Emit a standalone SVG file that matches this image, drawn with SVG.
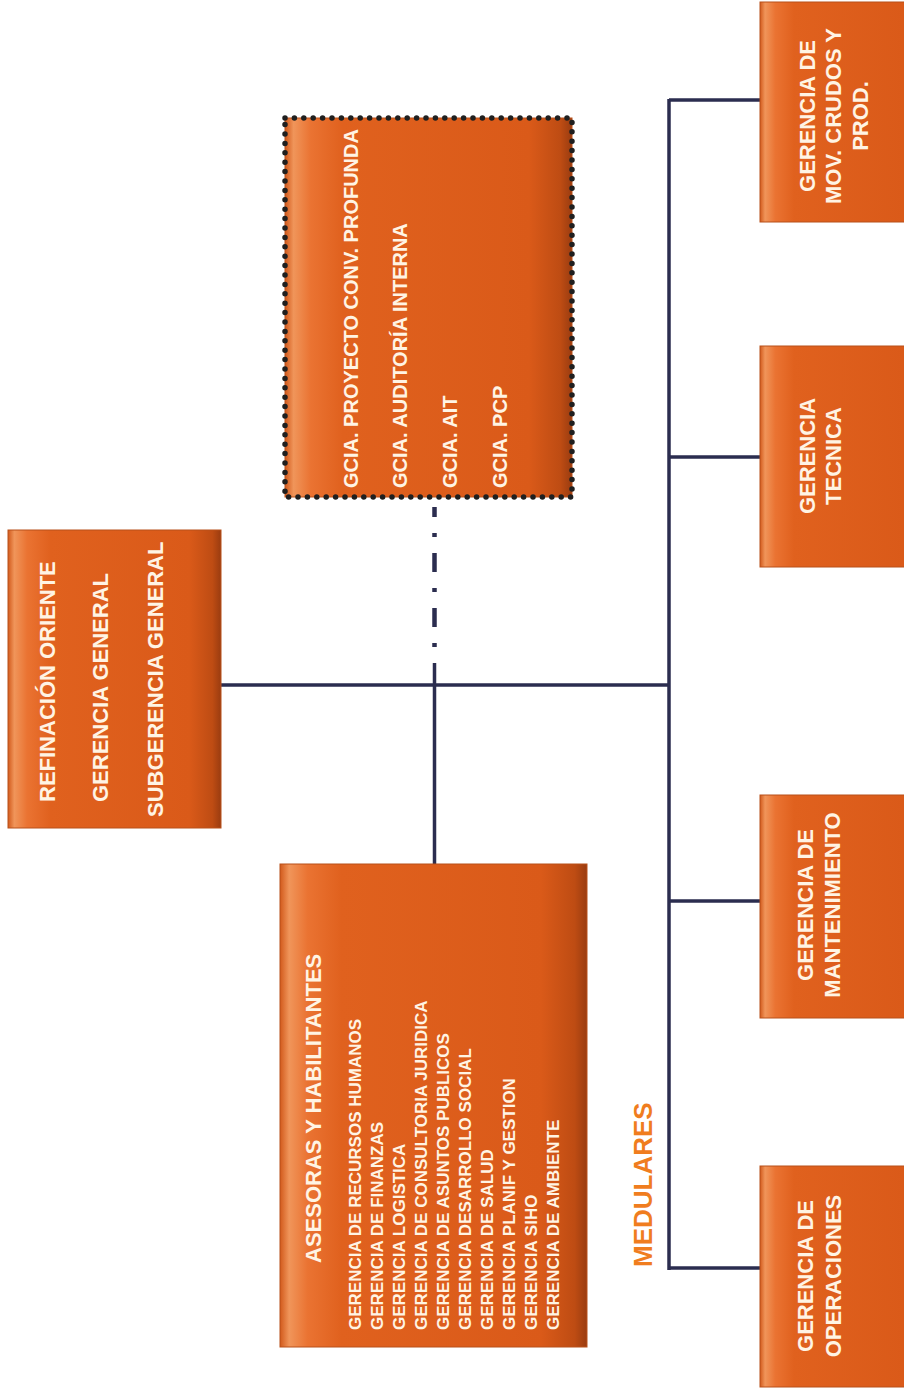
<svg xmlns="http://www.w3.org/2000/svg" width="904" height="1391" viewBox="0 0 904 1391">
<defs>
<linearGradient id="boxg" x1="0" y1="0" x2="1" y2="0">
<stop offset="0" stop-color="#D25A1C"/>
<stop offset="0.03" stop-color="#F0955A"/>
<stop offset="0.09" stop-color="#EA7332"/>
<stop offset="0.2" stop-color="#E0611E"/>
<stop offset="0.85" stop-color="#DA5A19"/>
<stop offset="0.96" stop-color="#BE4C13"/>
<stop offset="1" stop-color="#9A3C10"/>
</linearGradient>
<style>
.box{fill:url(#boxg);stroke:#B8501A;stroke-width:1}
.t{font-family:"Liberation Sans",Arial,sans-serif;font-weight:bold;fill:#FFF4E4}
.t22{font-size:22px}
.t20{font-size:20px}
.t17{font-size:17px}
.mid{text-anchor:middle}
.ln{stroke:#2B2D4F;stroke-width:3.5;fill:none}
</style>
</defs>
<rect x="0" y="0" width="904" height="1391" fill="#FFFFFF"/>

<g id="connectors">
<line class="ln" x1="221" y1="685" x2="669" y2="685"/>
<line class="ln" x1="669" y1="99" x2="669" y2="1270"/>
<line class="ln" x1="669" y1="100" x2="760" y2="100"/>
<line class="ln" x1="669" y1="457" x2="760" y2="457"/>
<line class="ln" x1="669" y1="901" x2="760" y2="901"/>
<line class="ln" x1="669" y1="1268" x2="760" y2="1268"/>
<line class="ln" x1="434.5" y1="663" x2="434.5" y2="864"/>
<line x1="434.5" y1="507" x2="434.5" y2="663" stroke="#2B2D4F" stroke-width="4.5" stroke-dasharray="19 16 4 16" stroke-dashoffset="9"/>
</g>

<g id="refinacion">
<rect class="box" x="8" y="530" width="213" height="298"/>
<text class="t t22" transform="translate(55,802) rotate(-90)">REFINACIÓN ORIENTE</text>
<text class="t t22" transform="translate(108,802) rotate(-90)">GERENCIA GENERAL</text>
<text class="t t22" transform="translate(163,817) rotate(-90)">SUBGERENCIA GENERAL</text>
</g>

<g id="gcias">
<rect class="box" x="285" y="118" width="287" height="379"/>
<rect x="285" y="118" width="287" height="379" fill="none" stroke="#1F1F1F" stroke-width="5.5" stroke-linecap="round" stroke-dasharray="0 9.4"/>
<text class="t t20" transform="translate(358,488) rotate(-90)">GCIA. PROYECTO CONV. PROFUNDA</text>
<text class="t t20" transform="translate(407,488) rotate(-90)">GCIA. AUDITORÍA INTERNA</text>
<text class="t t20" transform="translate(457,488) rotate(-90)">GCIA. AIT</text>
<text class="t t20" transform="translate(507,488) rotate(-90)">GCIA. PCP</text>
</g>

<g id="asesoras">
<rect class="box" x="280" y="864" width="307" height="483"/>
<text class="t t22" transform="translate(321,1263) rotate(-90)">ASESORAS Y HABILITANTES</text>
<text class="t t17" transform="translate(361,1330) rotate(-90)">GERENCIA DE RECURSOS HUMANOS</text>
<text class="t t17" transform="translate(383,1330) rotate(-90)">GERENCIA DE FINANZAS</text>
<text class="t t17" transform="translate(405,1330) rotate(-90)">GERENCIA LOGISTICA</text>
<text class="t t17" transform="translate(427,1330) rotate(-90)">GERENCIA DE CONSULTORIA JURIDICA</text>
<text class="t t17" transform="translate(449,1330) rotate(-90)">GERENCIA DE ASUNTOS PUBLICOS</text>
<text class="t t17" transform="translate(471,1330) rotate(-90)">GERENCIA DESARROLLO SOCIAL</text>
<text class="t t17" transform="translate(493,1330) rotate(-90)">GERENCIA DE SALUD</text>
<text class="t t17" transform="translate(515,1330) rotate(-90)">GERENCIA PLANIF Y GESTION</text>
<text class="t t17" transform="translate(537,1330) rotate(-90)">GERENCIA SIHO</text>
<text class="t t17" transform="translate(559,1330) rotate(-90)">GERENCIA DE AMBIENTE</text>
</g>

<g id="movcrudos">
<rect class="box" x="760" y="2" width="170" height="220"/>
<text class="t t22 mid" transform="translate(815,116) rotate(-90)">GERENCIA DE</text>
<text class="t t22 mid" transform="translate(841,116) rotate(-90)">MOV. CRUDOS Y</text>
<text class="t t22 mid" transform="translate(868,116) rotate(-90)">PROD.</text>
</g>

<g id="tecnica">
<rect class="box" x="760" y="346" width="170" height="221"/>
<text class="t t22 mid" transform="translate(815,456) rotate(-90)">GERENCIA</text>
<text class="t t22 mid" transform="translate(841,456) rotate(-90)">TECNICA</text>
</g>

<g id="mantenimiento">
<rect class="box" x="760" y="795" width="170" height="223"/>
<text class="t t22 mid" transform="translate(813,905) rotate(-90)">GERENCIA DE</text>
<text class="t t22 mid" transform="translate(840,905) rotate(-90)">MANTENIMIENTO</text>
</g>

<g id="operaciones">
<rect class="box" x="760" y="1166" width="170" height="221"/>
<text class="t t22 mid" transform="translate(813,1276) rotate(-90)">GERENCIA DE</text>
<text class="t t22 mid" transform="translate(841,1276) rotate(-90)">OPERACIONES</text>
</g>

<g id="medulares">
<text class="t" style="font-size:26px;fill:#F07D1E" transform="translate(652,1267) rotate(-90)">MEDULARES</text>
</g>
</svg>
